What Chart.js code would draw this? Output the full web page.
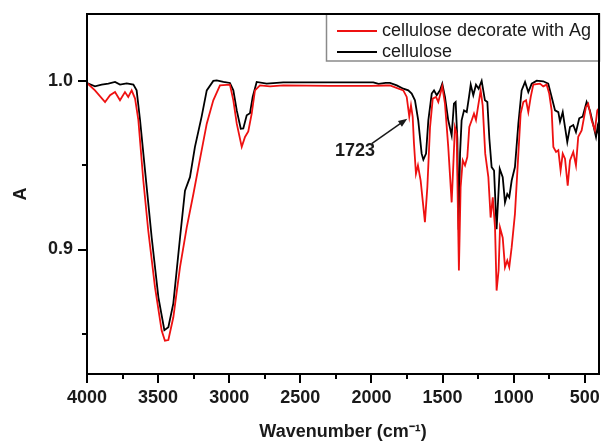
<!DOCTYPE html>
<html>
<head>
<meta charset="utf-8">
<script src="https://cdn.jsdelivr.net/npm/chart.js@4.4.1/dist/chart.umd.min.js"></script>
<style>
html,body{margin:0;padding:0;background:#fff;}
canvas{display:block;}
</style>
</head>
<body>
<canvas id="c" width="601" height="441"></canvas>
<script>
// ---- data ----
const seriesLabels = ["cellulose decorate with Ag", "cellulose"];

const wnCelluloseAg = [4000,3944,3873,3838,3803,3768,3733,3710,3686,3662,3639,3604,3569,3522,3475,3452,3428,3393,3346,3299,3252,3205,3158,3112,3065,2995,2971,2947,2912,2889,2866,2842,2819,2784,2713,2620,2292,2000,1900,1870,1776,1752,1734,1722,1710,1701,1687,1673,1654,1624,1607,1588,1569,1546,1530,1502,1483,1460,1436,1424,1413,1401,1385,1373,1358,1342,1326,1312,1295,1279,1265,1249,1232,1218,1200,1178,1162,1147,1131,1120,1106,1096,1077,1061,1045,1031,1014,991,967,951,932,913,897,880,862,815,792,768,750,733,721,702,686,670,655,639,620,604,581,562,546,522,492,476,452,429,412,400];
const aCelluloseAg = [0.999,0.9946,0.9877,0.9917,0.9936,0.9887,0.9936,0.9907,0.9946,0.9897,0.977,0.941,0.911,0.8776,0.8518,0.8458,0.8462,0.8597,0.8895,0.913,0.933,0.954,0.9748,0.9887,0.9976,0.998,0.9887,0.9748,0.961,0.9669,0.9702,0.9808,0.9946,0.9976,0.997,0.9976,0.9973,0.9973,0.9975,0.9976,0.9946,0.9907,0.979,0.9857,0.9788,0.963,0.945,0.950,0.941,0.9163,0.937,0.9728,0.9897,0.9907,0.9877,0.997,0.9867,0.961,0.928,0.951,0.9728,0.969,0.8875,0.937,0.953,0.950,0.955,0.9728,0.9768,0.9808,0.977,0.9857,0.9946,0.9857,0.957,0.943,0.919,0.931,0.913,0.8756,0.8875,0.913,0.907,0.8895,0.8935,0.8895,0.9014,0.9212,0.957,0.9808,0.9877,0.9887,0.9817,0.9907,0.998,0.9986,0.997,0.998,0.9927,0.9827,0.961,0.958,0.959,0.947,0.957,0.954,0.938,0.953,0.958,0.950,0.967,0.9708,0.9847,0.9867,0.9768,0.9708,0.9827,0.984];

const wnCellulose = [4000,3944,3897,3850,3803,3768,3721,3674,3651,3627,3592,3545,3498,3456,3428,3393,3346,3311,3276,3241,3194,3158,3112,3088,3041,2995,2971,2947,2919,2901,2877,2854,2835,2807,2737,2620,2292,2100,1987,1950,1900,1870,1822,1776,1741,1717,1694,1671,1647,1635,1616,1600,1576,1560,1541,1518,1502,1483,1460,1436,1420,1408,1396,1387,1377,1366,1349,1330,1314,1302,1284,1265,1246,1225,1202,1185,1171,1155,1138,1120,1098,1077,1061,1045,1031,1014,991,967,944,920,897,873,838,792,757,733,709,686,674,655,639,623,604,581,562,539,515,487,464,440,421,410,400];
const aCellulose = [0.999,0.997,0.998,0.9986,0.9996,0.998,0.9988,0.998,0.9946,0.977,0.947,0.907,0.8716,0.852,0.8538,0.868,0.907,0.935,0.943,0.961,0.979,0.9946,1.0002,1.0005,0.9996,0.999,0.9946,0.9827,0.9718,0.972,0.9798,0.981,0.9907,0.9996,0.9986,0.9994,0.9994,0.9994,0.9994,0.9985,0.999,0.999,0.9976,0.9956,0.9946,0.9927,0.9887,0.9768,0.957,0.9534,0.957,0.9768,0.9927,0.9946,0.9917,0.9946,0.9986,0.9907,0.9768,0.9679,0.9867,0.9877,0.966,0.9118,0.957,0.9768,0.9827,0.9817,0.9907,0.998,0.9917,0.998,0.9956,1.0002,0.9887,0.9877,0.966,0.949,0.947,0.912,0.948,0.943,0.928,0.933,0.931,0.941,0.949,0.9748,0.9946,0.9996,0.9936,0.9986,1.0004,1.0,0.9986,0.9907,0.9827,0.9817,0.976,0.9817,0.9728,0.9639,0.9728,0.974,0.9698,0.978,0.979,0.9877,0.9827,0.974,0.9669,0.9728,0.968];

const xTickValues = [4000,3750,3500,3250,3000,2750,2500,2250,2000,1750,1500,1250,1000,750,500];
const xTickLabels = ["4000","","3500","","3000","","2500","","2000","","1500","","1000","","500"];
const yTickValues = [0.85,0.9,0.95,1.0];
const yTickLabels = ["","0.9","","1.0"];

const annotationText = "1723";
const annotationTextPos = [2116, 0.9583];
const annotationArrow = [[1998, 0.963], [1748, 0.9778]];

const seriesColors = ["#ee1111", "#000000"];
const FONT = "'Liberation Sans', Arial, sans-serif";

function pts(xs, ys){ return xs.map((x,i)=>({x:x, y:ys[i]})); }

const framePlugin = {
  id: 'frameAndExtras',
  afterDraw(chart){
    const ctx = chart.ctx, ca = chart.chartArea;
    const xs = chart.scales.x, ys = chart.scales.y;
    ctx.save();
    // tick marks
    ctx.strokeStyle = '#000'; ctx.lineWidth = 2;
    xTickValues.forEach((v,i)=>{
      const px = Math.round(xs.getPixelForValue(v));
      const len = xTickLabels[i] ? 9 : 5;
      ctx.beginPath(); ctx.moveTo(px, ca.bottom); ctx.lineTo(px, ca.bottom+len); ctx.stroke();
    });
    yTickValues.forEach((v,i)=>{
      const py = Math.round(ys.getPixelForValue(v));
      const len = yTickLabels[i] ? 9 : 5;
      ctx.beginPath(); ctx.moveTo(ca.left, py); ctx.lineTo(ca.left-len, py); ctx.stroke();
    });
    // legend box
    const bx = ca.right - 273, by = ca.top, bw = 273, bh = 47;
    ctx.fillStyle = '#fff';
    ctx.fillRect(bx, by, bw, bh);
    ctx.strokeStyle = '#8a8a8a'; ctx.lineWidth = 1.5;
    ctx.strokeRect(bx+0.5, by, bw, bh);
    ctx.font = "18px " + FONT;
    ctx.textBaseline = 'middle'; ctx.textAlign = 'left';
    chart.data.datasets.forEach((ds, i)=>{
      const yy = by + 17 + i*21;
      ctx.strokeStyle = ds.borderColor; ctx.lineWidth = 2;
      ctx.beginPath(); ctx.moveTo(bx+11, yy); ctx.lineTo(bx+51, yy); ctx.stroke();
      ctx.fillStyle = '#1a1a1a';
      ctx.fillText(ds.label, bx+56, yy);
    });
    // annotation
    ctx.fillStyle = '#1a1a1a';
    ctx.font = "bold 18px " + FONT;
    ctx.textAlign = 'center';
    ctx.fillText(annotationText, xs.getPixelForValue(annotationTextPos[0]), ys.getPixelForValue(annotationTextPos[1]));
    const x0 = xs.getPixelForValue(annotationArrow[0][0]), y0 = ys.getPixelForValue(annotationArrow[0][1]);
    const x1 = xs.getPixelForValue(annotationArrow[1][0]), y1 = ys.getPixelForValue(annotationArrow[1][1]);
    const ang = Math.atan2(y1-y0, x1-x0);
    ctx.strokeStyle = '#1a1a1a'; ctx.lineWidth = 1.5;
    ctx.beginPath(); ctx.moveTo(x0,y0); ctx.lineTo(x1 - 6*Math.cos(ang), y1 - 6*Math.sin(ang)); ctx.stroke();
    ctx.beginPath();
    ctx.moveTo(x1, y1);
    ctx.lineTo(x1 - 9*Math.cos(ang) + 3.5*Math.sin(ang), y1 - 9*Math.sin(ang) - 3.5*Math.cos(ang));
    ctx.lineTo(x1 - 9*Math.cos(ang) - 3.5*Math.sin(ang), y1 - 9*Math.sin(ang) + 3.5*Math.cos(ang));
    ctx.closePath(); ctx.fill();
    // frame
    ctx.strokeStyle = '#000'; ctx.lineWidth = 2;
    ctx.strokeRect(ca.left, ca.top, ca.right-ca.left, ca.bottom-ca.top);
    ctx.restore();
  }
};

new Chart(document.getElementById('c'), {
  type: 'line',
  data: {
    datasets: [
      { label: seriesLabels[0], data: pts(wnCelluloseAg, aCelluloseAg), borderColor: seriesColors[0], borderWidth: 1.8, pointRadius: 0, tension: 0, fill: false },
      { label: seriesLabels[1], data: pts(wnCellulose, aCellulose), borderColor: seriesColors[1], borderWidth: 1.8, pointRadius: 0, tension: 0, fill: false }
    ]
  },
  options: {
    responsive: false,
    animation: false,
    layout: { padding: { left: 0, right: 2, top: 14, bottom: 0 } },
    plugins: { legend: { display: false }, tooltip: { enabled: false } },
    scales: {
      x: {
        type: 'linear', reverse: true, min: 400, max: 4000,
        afterBuildTicks(s){ s.ticks = xTickValues.map(v=>({value:v})); },
        afterFit(s){ s.height = 67; s.paddingLeft = 0; s.paddingRight = 0; },
        grid: { display: false, drawTicks: false },
        border: { display: false },
        ticks: {
          autoSkip: false, maxRotation: 0, padding: 13, color: '#1a1a1a',
          font: { family: FONT, size: 18, weight: 'bold' },
          callback(v){ const i = xTickValues.indexOf(v); return i>=0 ? xTickLabels[i] : ''; }
        },
        title: { display: true, text: 'Wavenumber (cm\u207B\u00B9)', color: '#1a1a1a',
          font: { family: FONT, size: 18, weight: 'bold', lineHeight: 1 }, padding: { top: 0, bottom: 0 } }
      },
      y: {
        type: 'linear', min: 0.826, max: 1.04,
        afterBuildTicks(s){ s.ticks = yTickValues.map(v=>({value:v})); },
        afterFit(s){ s.width = 87; s.paddingTop = 0; s.paddingBottom = 0; },
        grid: { display: false, drawTicks: false },
        border: { display: false },
        ticks: {
          autoSkip: false, padding: 14, color: '#1a1a1a',
          font: { family: FONT, size: 18, weight: 'bold' },
          callback(v){ const i = yTickValues.findIndex(t=>Math.abs(t-v)<1e-9); return i>=0 ? yTickLabels[i] : ''; }
        },
        title: { display: true, text: 'A', color: '#1a1a1a',
          font: { family: FONT, size: 18, weight: 'bold' }, padding: { top: 10, bottom: 0 } }
      }
    }
  },
  plugins: [framePlugin]
});
</script>
</body>
</html>
